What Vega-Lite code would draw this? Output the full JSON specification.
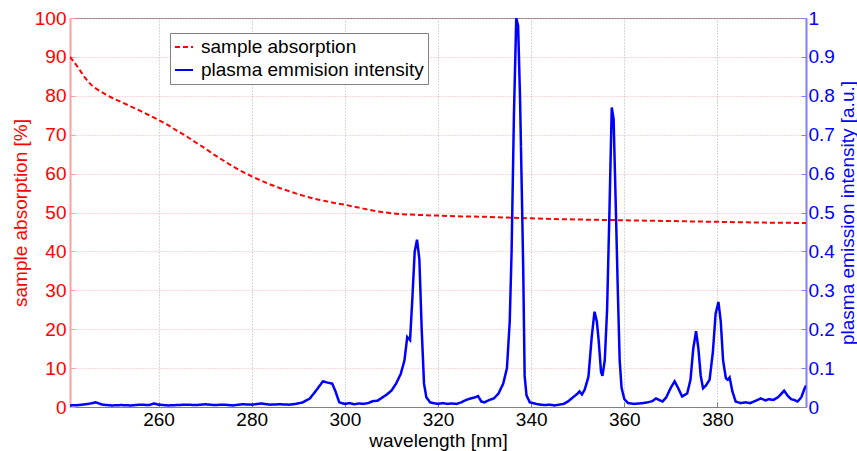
{
  "$schema": "https://vega.github.io/schema/vega-lite/v6.json",
  "autosize": "none",
  "width": 736,
  "height": 389,
  "padding": {"left": 70, "top": 18, "right": 51, "bottom": 44},
  "background": "white",
  "config": {
    "font": "Liberation Sans",
    "view": {"stroke": "#808080", "strokeWidth": 1},
    "axis": {"labelFontSize": 19, "titleFontSize": 19, "titleFontWeight": "normal", "labelFont": "Liberation Sans", "titleFont": "Liberation Sans"},
    "legend": {"labelFontSize": 19, "labelFont": "Liberation Sans", "labelLimit": 0}
  },
  "datasets": {
    "absorption": [
      {"wavelength": 241, "value": 90}, {"wavelength": 242, "value": 88.5}, {"wavelength": 243, "value": 86.8},
      {"wavelength": 244, "value": 85}, {"wavelength": 245, "value": 83.5}, {"wavelength": 246, "value": 82.3},
      {"wavelength": 248, "value": 80.8}, {"wavelength": 250, "value": 79.5}, {"wavelength": 252, "value": 78.4},
      {"wavelength": 254, "value": 77.3}, {"wavelength": 256, "value": 76.2}, {"wavelength": 258, "value": 75},
      {"wavelength": 260, "value": 73.8}, {"wavelength": 262, "value": 72.5}, {"wavelength": 264, "value": 71},
      {"wavelength": 266, "value": 69.6}, {"wavelength": 268, "value": 68}, {"wavelength": 270, "value": 66.5},
      {"wavelength": 272, "value": 64.8}, {"wavelength": 274, "value": 63.3}, {"wavelength": 276, "value": 61.8},
      {"wavelength": 278, "value": 60.5}, {"wavelength": 280, "value": 59.3}, {"wavelength": 282, "value": 58.2},
      {"wavelength": 284, "value": 57.2}, {"wavelength": 286, "value": 56.3}, {"wavelength": 288, "value": 55.5},
      {"wavelength": 290, "value": 54.7}, {"wavelength": 292, "value": 54}, {"wavelength": 294, "value": 53.4},
      {"wavelength": 296, "value": 52.9}, {"wavelength": 298, "value": 52.4}, {"wavelength": 300, "value": 52},
      {"wavelength": 302, "value": 51.5}, {"wavelength": 304, "value": 51}, {"wavelength": 306, "value": 50.5},
      {"wavelength": 308, "value": 50.1}, {"wavelength": 310, "value": 49.8}, {"wavelength": 312, "value": 49.6},
      {"wavelength": 315, "value": 49.4}, {"wavelength": 320, "value": 49.2}, {"wavelength": 325, "value": 49},
      {"wavelength": 330, "value": 48.9}, {"wavelength": 335, "value": 48.7}, {"wavelength": 340, "value": 48.5},
      {"wavelength": 345, "value": 48.3}, {"wavelength": 350, "value": 48.2}, {"wavelength": 355, "value": 48.1},
      {"wavelength": 360, "value": 48}, {"wavelength": 365, "value": 47.9}, {"wavelength": 370, "value": 47.8},
      {"wavelength": 375, "value": 47.7}, {"wavelength": 380, "value": 47.6}, {"wavelength": 385, "value": 47.5},
      {"wavelength": 390, "value": 47.4}, {"wavelength": 395, "value": 47.35}, {"wavelength": 399, "value": 47.3}
    ],
    "emission": [
      {"wavelength": 241, "value": 0.004}, {"wavelength": 243, "value": 0.005}, {"wavelength": 245, "value": 0.008},
      {"wavelength": 246.5, "value": 0.012}, {"wavelength": 248, "value": 0.006}, {"wavelength": 250, "value": 0.004},
      {"wavelength": 252, "value": 0.005}, {"wavelength": 254, "value": 0.004}, {"wavelength": 256, "value": 0.006},
      {"wavelength": 258, "value": 0.005}, {"wavelength": 259, "value": 0.009}, {"wavelength": 260, "value": 0.006},
      {"wavelength": 262, "value": 0.004}, {"wavelength": 264, "value": 0.005}, {"wavelength": 266, "value": 0.006},
      {"wavelength": 268, "value": 0.005}, {"wavelength": 270, "value": 0.007}, {"wavelength": 272, "value": 0.005},
      {"wavelength": 274, "value": 0.006}, {"wavelength": 276, "value": 0.004}, {"wavelength": 278, "value": 0.007},
      {"wavelength": 280, "value": 0.006}, {"wavelength": 282, "value": 0.009}, {"wavelength": 284, "value": 0.006},
      {"wavelength": 286, "value": 0.007}, {"wavelength": 288, "value": 0.006}, {"wavelength": 289.5, "value": 0.008},
      {"wavelength": 291, "value": 0.012}, {"wavelength": 292.5, "value": 0.022}, {"wavelength": 294, "value": 0.045},
      {"wavelength": 295.3, "value": 0.066}, {"wavelength": 296.5, "value": 0.062}, {"wavelength": 297.3, "value": 0.06},
      {"wavelength": 298, "value": 0.04}, {"wavelength": 298.8, "value": 0.012}, {"wavelength": 300, "value": 0.008},
      {"wavelength": 301, "value": 0.01}, {"wavelength": 302, "value": 0.007}, {"wavelength": 303, "value": 0.009},
      {"wavelength": 304, "value": 0.008}, {"wavelength": 305, "value": 0.01}, {"wavelength": 306, "value": 0.015},
      {"wavelength": 307, "value": 0.016}, {"wavelength": 308, "value": 0.024}, {"wavelength": 309, "value": 0.032},
      {"wavelength": 310, "value": 0.042}, {"wavelength": 311, "value": 0.06}, {"wavelength": 312, "value": 0.085},
      {"wavelength": 312.8, "value": 0.12}, {"wavelength": 313.4, "value": 0.18}, {"wavelength": 314, "value": 0.172},
      {"wavelength": 314.5, "value": 0.28}, {"wavelength": 315, "value": 0.4}, {"wavelength": 315.5, "value": 0.43},
      {"wavelength": 316, "value": 0.38}, {"wavelength": 316.5, "value": 0.2}, {"wavelength": 317, "value": 0.06},
      {"wavelength": 317.5, "value": 0.025}, {"wavelength": 318.3, "value": 0.012}, {"wavelength": 319, "value": 0.01},
      {"wavelength": 320, "value": 0.008}, {"wavelength": 321, "value": 0.01}, {"wavelength": 322, "value": 0.008},
      {"wavelength": 323, "value": 0.009}, {"wavelength": 324, "value": 0.008}, {"wavelength": 325, "value": 0.012},
      {"wavelength": 326, "value": 0.018}, {"wavelength": 327, "value": 0.022}, {"wavelength": 328, "value": 0.025},
      {"wavelength": 328.6, "value": 0.028}, {"wavelength": 329.3, "value": 0.014}, {"wavelength": 330, "value": 0.012},
      {"wavelength": 331, "value": 0.018}, {"wavelength": 332, "value": 0.022}, {"wavelength": 333, "value": 0.035},
      {"wavelength": 334, "value": 0.06}, {"wavelength": 334.8, "value": 0.1}, {"wavelength": 335.4, "value": 0.22},
      {"wavelength": 335.8, "value": 0.4}, {"wavelength": 336.3, "value": 0.75}, {"wavelength": 336.8, "value": 1.0},
      {"wavelength": 337.2, "value": 0.98}, {"wavelength": 337.6, "value": 0.8}, {"wavelength": 338, "value": 0.55},
      {"wavelength": 338.3, "value": 0.35}, {"wavelength": 338.6, "value": 0.08}, {"wavelength": 339, "value": 0.03},
      {"wavelength": 339.7, "value": 0.012}, {"wavelength": 341, "value": 0.008}, {"wavelength": 342, "value": 0.006},
      {"wavelength": 343, "value": 0.005}, {"wavelength": 344, "value": 0.006}, {"wavelength": 345, "value": 0.004},
      {"wavelength": 346, "value": 0.006}, {"wavelength": 347, "value": 0.008}, {"wavelength": 348, "value": 0.015},
      {"wavelength": 349, "value": 0.025}, {"wavelength": 350, "value": 0.035}, {"wavelength": 350.4, "value": 0.04},
      {"wavelength": 350.9, "value": 0.032}, {"wavelength": 351.5, "value": 0.045}, {"wavelength": 352.3, "value": 0.078},
      {"wavelength": 353, "value": 0.18}, {"wavelength": 353.6, "value": 0.245}, {"wavelength": 354.1, "value": 0.22},
      {"wavelength": 354.5, "value": 0.17}, {"wavelength": 355, "value": 0.09}, {"wavelength": 355.3, "value": 0.08},
      {"wavelength": 355.8, "value": 0.12}, {"wavelength": 356.3, "value": 0.25}, {"wavelength": 356.8, "value": 0.5},
      {"wavelength": 357.3, "value": 0.77}, {"wavelength": 357.7, "value": 0.74}, {"wavelength": 358.2, "value": 0.5},
      {"wavelength": 358.6, "value": 0.3}, {"wavelength": 359, "value": 0.12}, {"wavelength": 359.4, "value": 0.05},
      {"wavelength": 360, "value": 0.02}, {"wavelength": 360.8, "value": 0.01}, {"wavelength": 362, "value": 0.008},
      {"wavelength": 363, "value": 0.009}, {"wavelength": 364, "value": 0.01}, {"wavelength": 365, "value": 0.012},
      {"wavelength": 366, "value": 0.015}, {"wavelength": 366.8, "value": 0.022}, {"wavelength": 367.5, "value": 0.018},
      {"wavelength": 368.2, "value": 0.014}, {"wavelength": 369, "value": 0.025}, {"wavelength": 370, "value": 0.05},
      {"wavelength": 370.8, "value": 0.066}, {"wavelength": 371.5, "value": 0.05}, {"wavelength": 372.4, "value": 0.027},
      {"wavelength": 373.5, "value": 0.035}, {"wavelength": 374.2, "value": 0.07}, {"wavelength": 374.8, "value": 0.15},
      {"wavelength": 375.4, "value": 0.195}, {"wavelength": 375.9, "value": 0.15}, {"wavelength": 376.4, "value": 0.08},
      {"wavelength": 376.9, "value": 0.048}, {"wavelength": 377.5, "value": 0.055}, {"wavelength": 378.3, "value": 0.07},
      {"wavelength": 379, "value": 0.14}, {"wavelength": 379.6, "value": 0.24}, {"wavelength": 380.2, "value": 0.27},
      {"wavelength": 380.7, "value": 0.22}, {"wavelength": 381.2, "value": 0.12}, {"wavelength": 381.8, "value": 0.074},
      {"wavelength": 382.2, "value": 0.07}, {"wavelength": 382.6, "value": 0.076}, {"wavelength": 383.2, "value": 0.04},
      {"wavelength": 383.9, "value": 0.014}, {"wavelength": 385, "value": 0.01}, {"wavelength": 386, "value": 0.012},
      {"wavelength": 387, "value": 0.01}, {"wavelength": 388, "value": 0.015}, {"wavelength": 389.3, "value": 0.022},
      {"wavelength": 390.3, "value": 0.017}, {"wavelength": 391, "value": 0.02}, {"wavelength": 392, "value": 0.018},
      {"wavelength": 393, "value": 0.025}, {"wavelength": 394.3, "value": 0.042}, {"wavelength": 395, "value": 0.03},
      {"wavelength": 395.8, "value": 0.02}, {"wavelength": 396.5, "value": 0.018}, {"wavelength": 397.2, "value": 0.014},
      {"wavelength": 398, "value": 0.025}, {"wavelength": 398.6, "value": 0.045}, {"wavelength": 399, "value": 0.055}
    ]
  },
  "layer": [
    {
      "data": {"name": "absorption"},
      "transform": [{"calculate": "'sample absorption'", "as": "series"}],
      "mark": {"type": "line", "strokeWidth": 2, "clip": true},
      "encoding": {
        "x": {
          "field": "wavelength", "type": "quantitative",
          "scale": {"domain": [241, 399], "nice": false, "zero": false},
          "axis": {
            "title": "wavelength [nm]", "values": [260, 280, 300, 320, 340, 360, 380],
            "grid": true, "gridColor": "#b0b0b0", "gridDash": [1, 2], "gridWidth": 1,
            "domainColor": "#808080", "tickColor": "#808080", "tickSize": -5, "labelPadding": 8,
            "labelColor": "#000000", "titleColor": "#000000", "titlePadding": 2
          }
        },
        "y": {
          "field": "value", "type": "quantitative",
          "scale": {"domain": [0, 100], "nice": false},
          "axis": {
            "title": "sample absorption [%]", "values": [0, 10, 20, 30, 40, 50, 60, 70, 80, 90, 100],
            "grid": true, "gridColor": "#ffaaaa", "gridDash": [1, 2], "gridWidth": 1,
            "domainColor": "#ffa0a0", "domainWidth": 2, "tickColor": "#ffa0a0", "tickSize": -5, "labelPadding": 9,
            "labelColor": "#ff0000", "titleColor": "#ff0000", "titlePadding": 4
          }
        },
        "color": {
          "field": "series", "type": "nominal",
          "scale": {"domain": ["sample absorption", "plasma emmision intensity"], "range": ["#ff0000", "#0000ff"]},
          "legend": {
            "title": null, "orient": "none", "legendX": 100, "legendY": 15,
            "fillColor": "#ffffff", "strokeColor": "#808080", "padding": 4,
            "symbolType": "stroke", "symbolSize": 324, "symbolStrokeWidth": 2,
            "labelOffset": 7, "rowPadding": 3, "labelColor": "#000000", "labelFontSize": 19, "labelLimit": 0
          }
        },
        "strokeDash": {
          "field": "series", "type": "nominal",
          "scale": {"domain": ["sample absorption", "plasma emmision intensity"], "range": [[5, 3], [1, 0]]},
          "legend": {
            "title": null, "orient": "none", "legendX": 100, "legendY": 15,
            "fillColor": "#ffffff", "strokeColor": "#808080", "padding": 4,
            "symbolType": "stroke", "symbolSize": 324, "symbolStrokeWidth": 2,
            "labelOffset": 7, "rowPadding": 3, "labelColor": "#000000", "labelFontSize": 19, "labelLimit": 0
          }
        }
      }
    },
    {
      "data": {"name": "emission"},
      "transform": [{"calculate": "'plasma emmision intensity'", "as": "series"}],
      "mark": {"type": "line", "strokeWidth": 2.5, "clip": true},
      "encoding": {
        "x": {"field": "wavelength", "type": "quantitative"},
        "y": {
          "field": "value", "type": "quantitative",
          "scale": {"domain": [0, 1], "nice": false},
          "axis": {
            "orient": "right", "title": "plasma emission intensity [a.u.]", "titleAngle": 270,
            "values": [0, 0.1, 0.2, 0.3, 0.4, 0.5, 0.6, 0.7, 0.8, 0.9, 1], "format": "~g",
            "grid": false, "domainColor": "#8080ff", "domainWidth": 2, "tickColor": "#8080ff", "tickSize": -5, "labelPadding": 7,
            "labelColor": "#0000ff", "titleColor": "#0000ff", "titlePadding": 23
          }
        },
        "color": {"field": "series", "type": "nominal"},
        "strokeDash": {"field": "series", "type": "nominal"}
      }
    }
  ],
  "resolve": {"scale": {"y": "independent"}}
}
